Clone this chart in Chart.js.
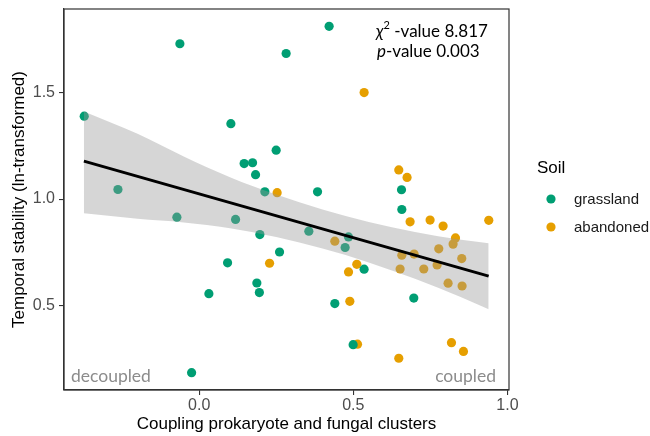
<!DOCTYPE html>
<html><head><meta charset="utf-8">
<script src="https://cdn.jsdelivr.net/npm/chart.js@4"></script>
<style>html,body{margin:0;padding:0;background:#fff;}#wrap{width:650px;height:436px;}</style>
</head><body><div id="wrap"><canvas id="c" width="650" height="436"></canvas></div>
<script>
// ---- data ----
const grasslandX = [0.4215,-0.0626,0.2821,-0.3729,0.1028,0.2497,0.1459,0.1732,0.1829,-0.2636,0.2130,0.3839,0.6563,-0.0723,0.1180,0.6573,0.1968,0.3557,0.4844,0.4734,0.2607,0.5350,0.0921,0.1871,0.1952,0.0315,0.4400,0.6962,0.4994,-0.0246];
const grasslandY = [1.813,1.731,1.685,1.390,1.355,1.230,1.167,1.171,1.115,1.045,1.034,1.034,1.044,0.915,0.904,0.951,0.833,0.849,0.822,0.772,0.751,0.670,0.700,0.605,0.560,0.555,0.508,0.534,0.315,0.183];
const abandonedX = [0.535,0.6475,0.6744,0.2529,0.6842,0.7490,0.7912,0.9394,0.8314,0.8236,0.7772,0.4400,0.6573,0.6971,0.8518,0.2283,0.5113,0.4844,0.6518,0.7286,0.7717,0.8074,0.8528,0.4887,0.5136,0.8184,0.8573,0.6475];
const abandonedY = [1.501,1.137,1.102,1.030,0.893,0.901,0.873,0.900,0.817,0.788,0.766,0.802,0.736,0.741,0.720,0.698,0.693,0.657,0.671,0.671,0.690,0.604,0.591,0.519,0.317,0.324,0.283,0.251];
const fitX = [-0.374, 0.939];
const fitY = [1.179, 0.637];
const bandX = [-0.374,-0.20,-0.05,0.10,0.25,0.40,0.55,0.70,0.85,0.939];
const bandUpper = [1.412,1.307,1.200,1.103,1.021,0.951,0.892,0.845,0.808,0.792];
const bandLower = [0.933,0.907,0.890,0.863,0.821,0.767,0.702,0.625,0.538,0.482];
const xTicks = [0.0, 0.5, 1.0];
const yTicks = [0.5, 1.0, 1.5];
const soilLabels = ['grassland','abandoned'];
const soilColors = ['#009E73','#E69F00'];
// -----------------------------------------

const pts = (xs, ys) => xs.map((x, i) => ({x, y: ys[i]}));
const AX = "'Liberation Sans', Arial, sans-serif";
const CAL = "Lato, 'Open Sans', sans-serif";

const decor = {
  id: 'decor',
  afterDraw(chart) {
    const ctx = chart.ctx, a = chart.chartArea;
    ctx.save();
    ctx.strokeStyle = '#333333';
    ctx.lineWidth = 1.2;
    ctx.strokeRect(a.left, a.top, a.right - a.left, a.bottom - a.top);
    // annotations
    ctx.fillStyle = '#000';
    ctx.textBaseline = 'alphabetic';
    ctx.textAlign = 'left';
    ctx.font = "italic 17px " + CAL;
    ctx.fillText('χ', 376, 37);
    let w = ctx.measureText('χ').width;
    ctx.font = "11px " + CAL;
    ctx.fillText('2', 376 + w, 29);
    let w2 = ctx.measureText('2').width;
    ctx.font = "17px " + CAL;
    ctx.fillText(' -value 8.817', 376 + w + w2, 37);
    ctx.font = "italic 17px " + CAL;
    ctx.fillText('p', 377, 57);
    w = ctx.measureText('p').width;
    ctx.font = "17px " + CAL;
    ctx.fillText('-value 0.003', 377 + w, 57);
    ctx.fillStyle = '#8c8c8c';
    ctx.font = "17.5px " + CAL;
    ctx.fillText('decoupled', 71, 382);
    ctx.textAlign = 'right';
    ctx.fillText('coupled', 496, 382);
    // legend
    ctx.textAlign = 'left';
    ctx.fillStyle = '#000';
    ctx.font = "17px " + AX;
    ctx.fillText('Soil', 537, 173);
    ctx.font = "15px " + AX;
    const ly = [199, 227];
    soilLabels.forEach((lab, i) => {
      ctx.beginPath();
      ctx.fillStyle = soilColors[i];
      ctx.arc(551, ly[i], 4.6, 0, Math.PI * 2);
      ctx.fill();
      ctx.fillStyle = '#1a1a1a';
      ctx.fillText(lab, 574, ly[i] + 5.3);
    });
    ctx.restore();
  }
};

new Chart(document.getElementById('c'), {
  type: 'scatter',
  data: {
    datasets: [
      { type: 'line', label: 'fit', data: pts(fitX, fitY), showLine: true, borderColor: '#000', borderWidth: 2.9, pointRadius: 0, fill: false },
      { type: 'line', label: 'upper', data: pts(bandX, bandUpper), showLine: true, borderWidth: 0, borderColor: 'rgba(0,0,0,0)', pointRadius: 0, fill: '+1', backgroundColor: 'rgba(153,153,153,0.4)', cubicInterpolationMode: 'monotone' },
      { type: 'line', label: 'lower', data: pts(bandX, bandLower), showLine: true, borderWidth: 0, borderColor: 'rgba(0,0,0,0)', pointRadius: 0, fill: false, cubicInterpolationMode: 'monotone' },
      { label: soilLabels[0], data: pts(grasslandX, grasslandY), backgroundColor: soilColors[0], borderWidth: 0, pointRadius: 4.6 },
      { label: soilLabels[1], data: pts(abandonedX, abandonedY), backgroundColor: soilColors[1], borderWidth: 0, pointRadius: 4.6 }
    ]
  },
  options: {
    responsive: false,
    animation: false,
    devicePixelRatio: 1,
    layout: { padding: { left: 0, right: 141, top: 9, bottom: 0 } },
    plugins: { legend: { display: false }, tooltip: { enabled: false } },
    scales: {
      x: {
        type: 'linear', min: -0.4385, max: 1.005,
        afterBuildTicks: s => { s.ticks = xTicks.map(v => ({ value: v })); },
        afterFit: s => { s.height = 46; s.paddingLeft = 0; s.paddingRight = 0; },
        ticks: { callback: v => Number(v).toFixed(1), color: '#4d4d4d', font: { family: AX, size: 16 }, padding: 1, maxRotation: 0 },
        grid: { display: true, drawOnChartArea: false, drawTicks: true, tickLength: 5, color: '#333333', lineWidth: 1.1 },
        border: { display: true, color: '#333333', width: 1.2 },
        title: { display: true, text: 'Coupling prokaryote and fungal clusters', color: '#000', font: { family: AX, size: 17 }, padding: { top: 0, bottom: 1 } }
      },
      y: {
        type: 'linear', min: 0.1015, max: 1.8945,
        afterBuildTicks: s => { s.ticks = yTicks.map(v => ({ value: v })); },
        afterFit: s => { s.width = 64; s.paddingTop = 0; s.paddingBottom = 0; },
        ticks: { callback: v => Number(v).toFixed(1), color: '#4d4d4d', font: { family: AX, size: 16 }, padding: 4 },
        grid: { display: true, drawOnChartArea: false, drawTicks: true, tickLength: 5, color: '#333333', lineWidth: 1.1 },
        border: { display: true, color: '#333333', width: 1.2 },
        title: { display: true, text: 'Temporal stability (ln-transformed)', color: '#000', font: { family: AX, size: 17 }, padding: { top: 9, bottom: 0 } }
      }
    }
  },
  plugins: [decor]
});
</script>
</body></html>
